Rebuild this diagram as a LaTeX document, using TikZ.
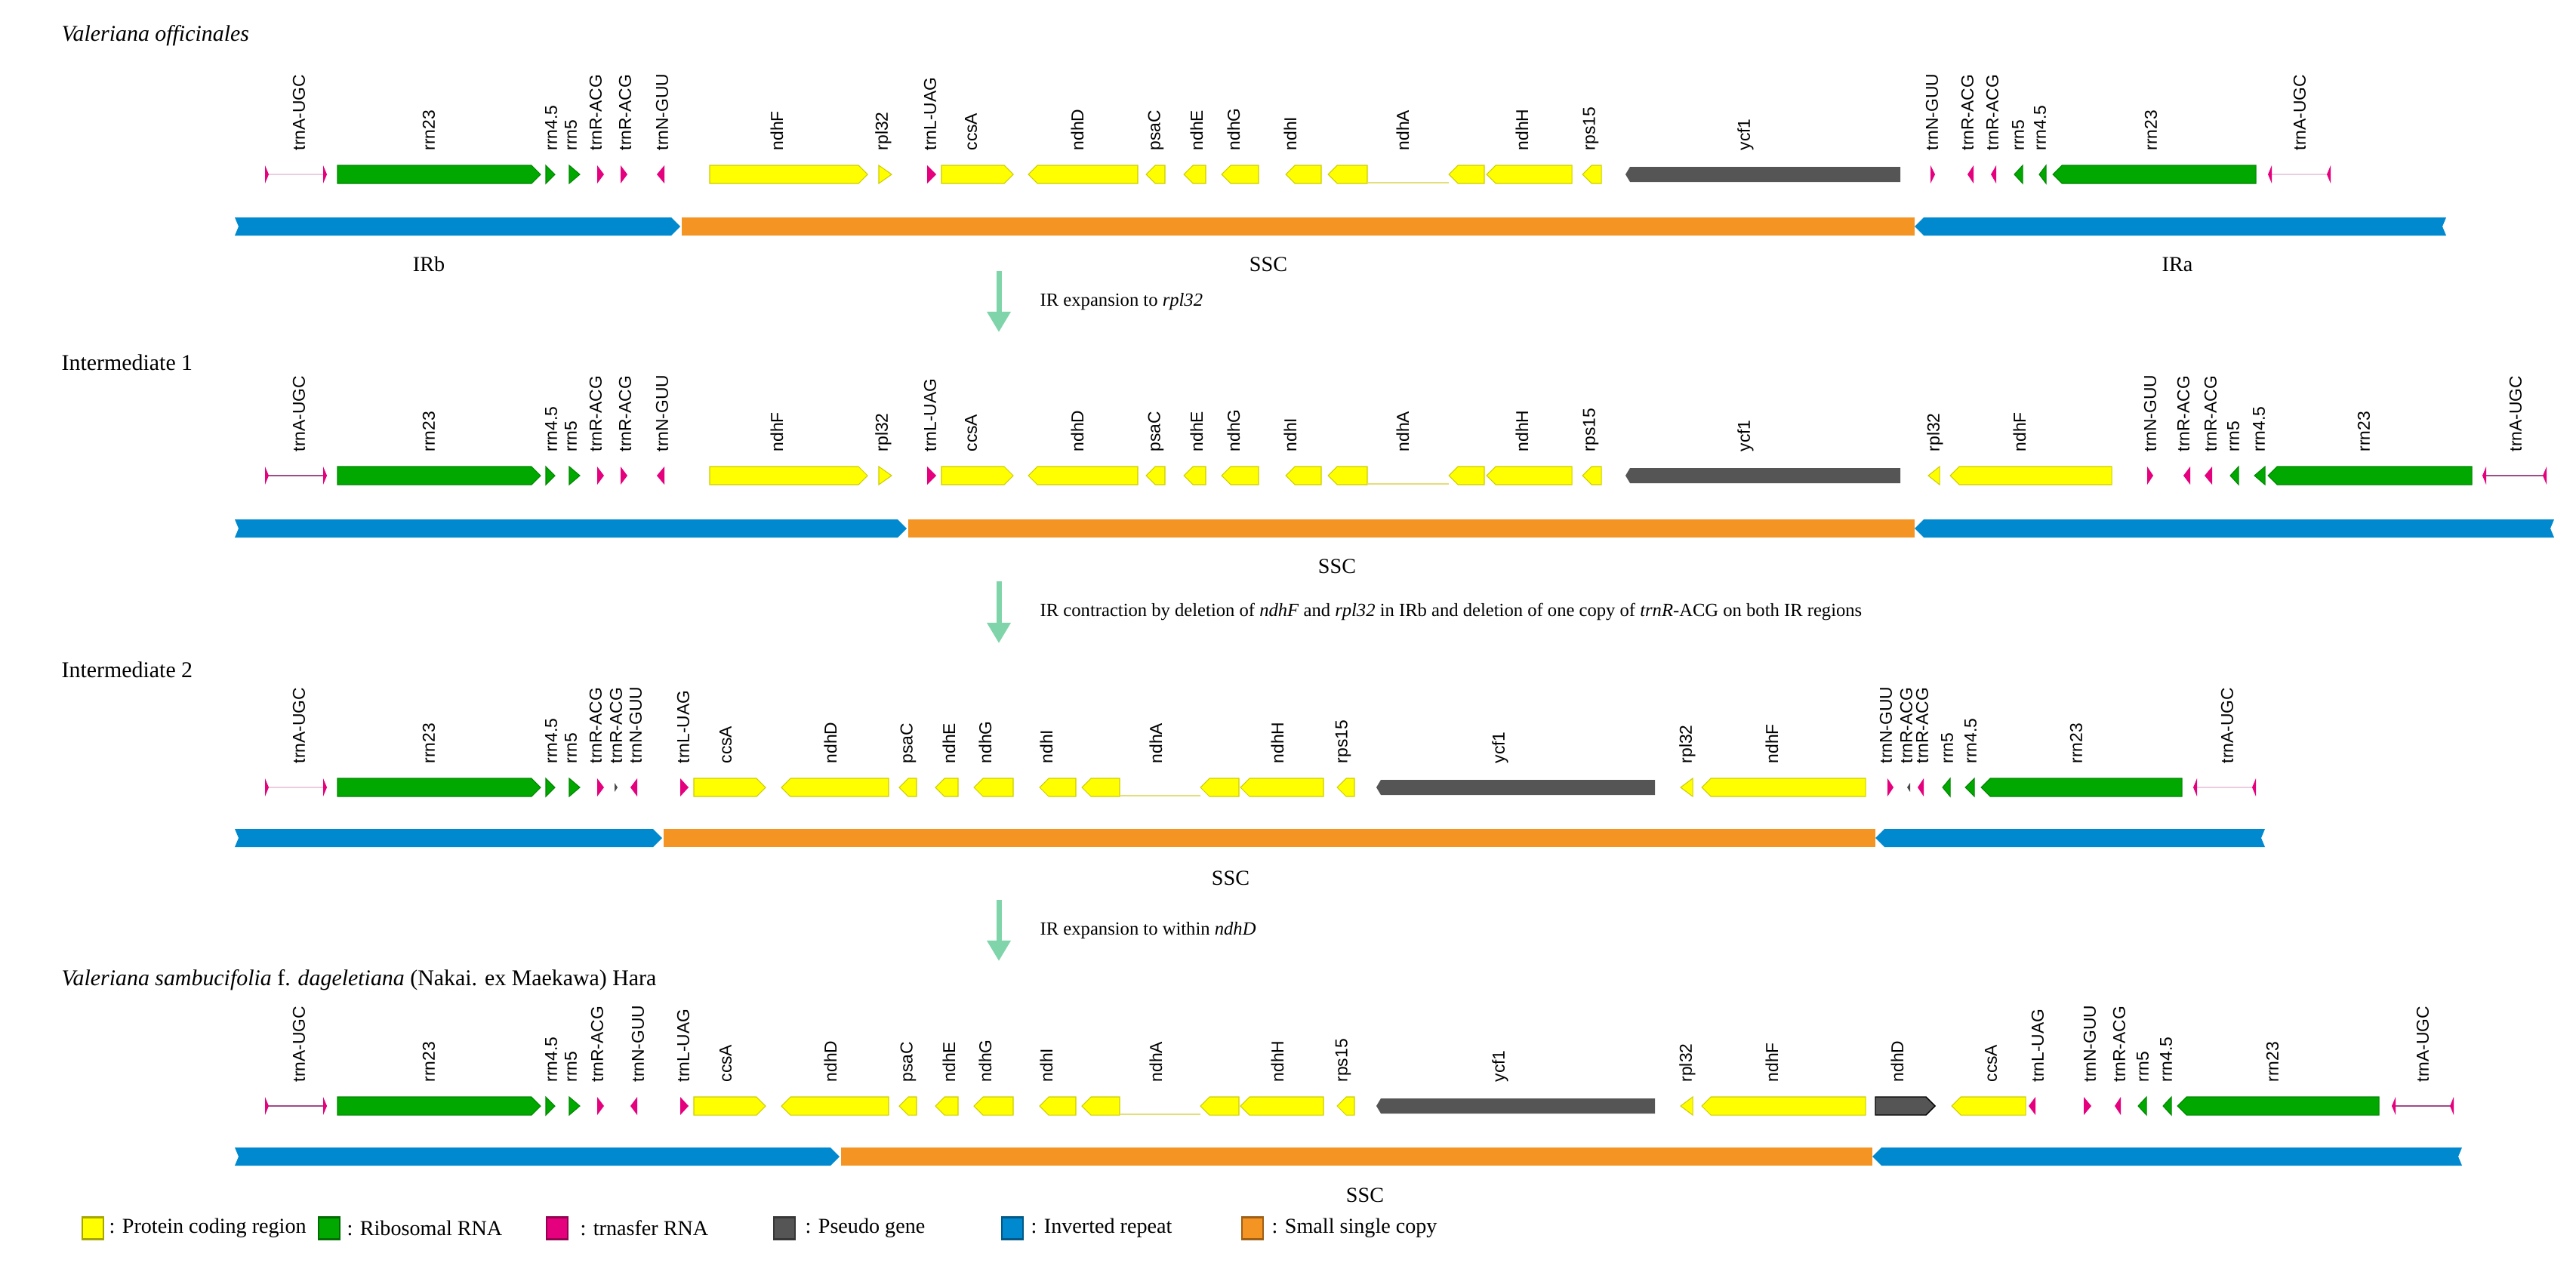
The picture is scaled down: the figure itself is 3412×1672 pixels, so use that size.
\documentclass[tikz,border=0pt]{standalone}
\usepackage{fontspec}
\setmainfont{Liberation Serif}
\newfontfamily\labfont{Liberation Sans}
\usetikzlibrary{arrows.meta}

\definecolor{cdsyel}{HTML}{FFFF00}
\definecolor{rrngrn}{HTML}{00A800}
\definecolor{trnmag}{HTML}{E5007D}
\definecolor{pseugry}{HTML}{555555}
\definecolor{irblu}{HTML}{0089CF}
\definecolor{sscorg}{HTML}{F39423}
\definecolor{arrmint}{HTML}{80D4AA}
\definecolor{alinelt}{HTML}{EBCDE0}
\definecolor{alinedk}{HTML}{A04A88}

\def\gy{0}\def\by{0}\def\rw{x}
% gene shapes, x in px of the plate, row height taken from \gy
\newcommand\geneR[3][cds]{\filldraw[#1] (#2,\gy-12) -- (#3-12,\gy-12) -- (#3,\gy) -- (#3-12,\gy+12) -- (#2,\gy+12) -- cycle;}
\newcommand\geneL[3][cds]{\filldraw[#1] (#3,\gy-12) -- (#2+12,\gy-12) -- (#2,\gy) -- (#2+12,\gy+12) -- (#3,\gy+12) -- cycle;}
\newcommand\tipR[3][trna]{\filldraw[#1] (#2,\gy-12) -- (#3,\gy) -- (#2,\gy+12) -- cycle;}
\newcommand\tipL[3][trna]{\filldraw[#1] (#3,\gy-12) -- (#2,\gy) -- (#3,\gy+12) -- cycle;}
\newcommand\pseudo[2]{\fill[pg] (#1,\gy) -- (#1+6,\gy-10) -- (#2,\gy-10) -- (#2,\gy+10) -- (#1+6,\gy+10) -- cycle;}
\newcommand\glab[2]{\node[glabel] (g\rw-#1) at (#1,\gy-31) {#2};}
% region bars, row height from \by
\newcommand\irR[2]{\fill[ir] (#1,\by-12) -- (#2-12,\by-12) -- (#2,\by) -- (#2-12,\by+12) -- (#1,\by+12) -- (#1+5,\by) -- cycle;}
\newcommand\irL[2]{\fill[ir] (#1,\by) -- (#1+12,\by-12) -- (#2,\by-12) -- (#2-5,\by) -- (#2,\by+12) -- (#1+12,\by+12) -- cycle;}
\newcommand\ssc[2]{\fill[sc] (#1+2,\by-12) rectangle (#2,\by+12);}

% SSC of V. officinalis and intermediate 1
\newcommand\coreA{%
  \geneR{1247}{1342} \glab{1286}{ccsA}
  \geneL{1362}{1507} \glab{1427}{ndhD}
  \geneL{1518}{1543} \glab{1531}{psaC}
  \geneL{1568}{1597} \glab{1585}{ndhE}
  \geneL{1618}{1667} \glab{1634}{ndhG}
  \geneL{1703}{1750} \glab{1709}{ndhI}
  \geneL{1759}{1811} \draw[intron] (1811,\gy+11) -- (1919,\gy+11); \geneL{1919}{1966} \glab{1858}{ndhA}
  \geneL{1969}{2082} \glab{2016}{ndhH}
  \geneL{2096}{2121} \glab{2107}{rps15}
  \pseudo{2153}{2517} \glab{2312}{ycf1}}
% SSC of intermediate 2 and V. sambucifolia
\newcommand\coreB{%
  \geneL{1035}{1177} \glab{1100}{ndhD}
  \geneL{1191}{1214} \glab{1203}{psaC}
  \geneL{1239}{1269} \glab{1257}{ndhE}
  \geneL{1290}{1342} \glab{1305}{ndhG}
  \geneL{1377}{1425} \glab{1386}{ndhI}
  \geneL{1433}{1483} \draw[intron] (1483,\gy+11) -- (1590,\gy+11); \geneL{1590}{1641} \glab{1531}{ndhA}
  \geneL{1643}{1753} \glab{1692}{ndhH}
  \geneL{1771}{1794} \glab{1779}{rps15}
  \pseudo{1823}{2192} \glab{1987}{ycf1}
  \tipL[cds]{2226}{2242} \glab{2235}{rpl32}
  \geneL{2254}{2471} \glab{2347}{ndhF}}

\begin{document}
\begin{tikzpicture}[%
  x=0.01cm, y=-0.01cm,
  cds/.style={fill=cdsyel, draw=cdsyel!80!black, line width=0.3pt},
  rrn/.style={fill=rrngrn, draw=rrngrn!80!black, line width=0.3pt},
  trna/.style={fill=trnmag, draw=none},
  pg/.style={fill=pseugry},
  ir/.style={fill=irblu},
  sc/.style={fill=sscorg},
  intron/.style={draw=black!20!yellow!60!white, line width=0.6pt},
  alight/.style={draw=alinelt, line width=0.8pt},
  adark/.style={draw=alinedk, line width=0.8pt},
  glabel/.style={rotate=90, anchor=west, inner sep=0pt, font=\labfont\fontsize{6.5}{7}\selectfont},
  title/.style={anchor=west, inner sep=0pt, font=\fontsize{8.5}{10}\selectfont},
  region/.style={inner sep=0pt, font=\fontsize{8}{9}\selectfont},
  trans/.style={draw=arrmint, line width=2pt, -{Triangle[length=7.7pt, width=8.5pt]}},
  tlabel/.style={anchor=west, inner sep=0pt, font=\fontsize{7}{8}\selectfont},
  lbox/.style={minimum width=0.28cm, minimum height=0.29cm, inner sep=0pt, line width=0.8pt},
  ltext/.style={anchor=west, inner sep=0pt, font=\fontsize{8}{10}\selectfont}]
\useasboundingbox (0,0) rectangle (3412,1672);

% Valeriana officinales
\node[title] (ti1) at (81,47) {\textit{Valeriana officinales}};
\def\rw{a}\def\gy{231}\def\by{300}
\draw[alight] (351,\gy) -- (433,\gy); \tipR{351}{356} \tipR{428}{433} \glab{396}{trnA-UGC}
\geneR[rrn]{447}{716} \glab{568}{rrn23}
\tipR[rrn]{723}{735} \glab{730}{rrn4.5}
\tipR[rrn]{754}{768} \glab{756}{rrn5}
\tipR{791}{800} \glab{789}{trnR-ACG}
\tipR{822}{831} \glab{828}{trnR-ACG}
\tipL{870}{880} \glab{877}{trnN-GUU}
\geneR{940}{1149} \glab{1029}{ndhF}
\tipR[cds]{1164}{1181} \glab{1170}{rpl32}
\tipR{1228}{1240} \glab{1232}{trnL-UAG}
\coreA
\tipR{2557}{2563} \glab{2559}{trnN-GUU}
\tipL{2606}{2614} \glab{2606}{trnR-ACG}
\tipL{2637}{2644} \glab{2639}{trnR-ACG}
\tipL[rrn]{2668}{2679} \glab{2673}{rrn5}
\tipL[rrn]{2701}{2710} \glab{2702}{rrn4.5}
\geneL[rrn]{2719}{2988} \glab{2849}{rrn23}
\draw[alight] (3004,\gy) -- (3087,\gy); \tipL{3004}{3009} \tipL{3082}{3087} \glab{3046}{trnA-UGC}
\irR{311}{901} \ssc{901}{2536} \irL{2536}{3240}
\node[region] (ra1) at (568,350) {IRb};
\node[region] (sc1) at (1680,350) {SSC};
\node[region] (rb1) at (2884,350) {IRa};

\coordinate (s1) at (1323,359);
\coordinate (e1) at (1323,440);
\draw[trans] (s1) -- (e1);
\node[tlabel] (tr1) at (1377,400) {IR expansion to \textit{rpl32}};

% Intermediate 1
\node[title] (ti2) at (81,480) {Intermediate 1};
\def\rw{b}\def\gy{630}\def\by{700}
\draw[adark] (351,\gy) -- (433,\gy); \tipR{351}{356} \tipR{428}{433} \glab{396}{trnA-UGC}
\geneR[rrn]{447}{716} \glab{568}{rrn23}
\tipR[rrn]{723}{735} \glab{730}{rrn4.5}
\tipR[rrn]{754}{768} \glab{756}{rrn5}
\tipR{791}{800} \glab{789}{trnR-ACG}
\tipR{822}{831} \glab{828}{trnR-ACG}
\tipL{870}{880} \glab{877}{trnN-GUU}
\geneR{940}{1149} \glab{1029}{ndhF}
\tipR[cds]{1164}{1181} \glab{1170}{rpl32}
\tipR{1228}{1240} \glab{1232}{trnL-UAG}
\coreA
\tipL[cds]{2554}{2569} \glab{2563}{rpl32}
\geneL{2583}{2797} \glab{2675}{ndhF}
\tipR{2844}{2852} \glab{2848}{trnN-GUU}
\tipL{2892}{2901} \glab{2892}{trnR-ACG}
\tipL{2920}{2930} \glab{2928}{trnR-ACG}
\tipL[rrn]{2954}{2965} \glab{2958}{rrn5}
\tipL[rrn]{2986}{3000} \glab{2992}{rrn4.5}
\geneL[rrn]{3004}{3274} \glab{3131}{rrn23}
\draw[adark] (3288,\gy) -- (3373,\gy); \tipL{3288}{3293} \tipL{3368}{3373} \glab{3332}{trnA-UGC}
\irR{311}{1201} \ssc{1201}{2536} \irL{2536}{3383}
\node[region] (sc2) at (1771,750) {SSC};

\coordinate (s2) at (1323,770);
\coordinate (e2) at (1323,852);
\draw[trans] (s2) -- (e2);
\node[tlabel] (tr2) at (1377,810) {IR contraction by deletion of \textit{ndhF} and \textit{rpl32} in IRb and deletion of one copy of \textit{trnR}-ACG on both IR regions};

% Intermediate 2
\node[title] (ti3) at (81,887) {Intermediate 2};
\def\rw{c}\def\gy{1043}\def\by{1110}
\draw[alight] (351,\gy) -- (433,\gy); \tipR{351}{356} \tipR{428}{433} \glab{396}{trnA-UGC}
\geneR[rrn]{447}{716} \glab{568}{rrn23}
\tipR[rrn]{723}{735} \glab{730}{rrn4.5}
\tipR[rrn]{754}{768} \glab{756}{rrn5}
\tipR{791}{800} \glab{789}{trnR-ACG}
\filldraw[fill=black!70, draw=none] (814,\gy-6) -- (818,\gy) -- (814,\gy+6) -- cycle; \glab{816}{trnR-ACG}
\tipL{835}{844} \glab{842}{trnN-GUU}
\tipR{901}{912} \glab{905}{trnL-UAG}
\geneR{919}{1014} \glab{961}{ccsA}
\coreB
\tipR{2500}{2508} \glab{2498}{trnN-GUU}
\filldraw[fill=black!70, draw=none] (2530,\gy-6) -- (2526,\gy) -- (2530,\gy+6) -- cycle; \glab{2525}{trnR-ACG}
\tipL{2540}{2548} \glab{2546}{trnR-ACG}
\tipL[rrn]{2573}{2583} \glab{2579}{rrn5}
\tipL[rrn]{2603}{2615} \glab{2610}{rrn4.5}
\geneL[rrn]{2624}{2890} \glab{2750}{rrn23}
\draw[alight] (2905,\gy) -- (2988,\gy); \tipL{2905}{2910} \tipL{2983}{2988} \glab{2950}{trnA-UGC}
\irR{311}{877} \ssc{877}{2484} \irL{2484}{3000}
\node[region] (sc3) at (1630,1163) {SSC};

\coordinate (s3) at (1323,1192);
\coordinate (e3) at (1323,1273);
\draw[trans] (s3) -- (e3);
\node[tlabel] (tr3) at (1377,1233) {IR expansion to within \textit{ndhD}};

% Valeriana sambucifolia f. dageletiana
\node[title] (ti4) at (81,1298) {\textit{Valeriana sambucifolia} f. \textit{dageletiana} (Nakai. ex Maekawa) Hara};
\def\rw{d}\def\gy{1465}\def\by{1532}
\draw[adark] (351,\gy) -- (433,\gy); \tipR{351}{356} \tipR{428}{433} \glab{396}{trnA-UGC}
\geneR[rrn]{447}{716} \glab{568}{rrn23}
\tipR[rrn]{723}{735} \glab{730}{rrn4.5}
\tipR[rrn]{754}{768} \glab{756}{rrn5}
\tipR{791}{800} \glab{791}{trnR-ACG}
\tipL{835}{844} \glab{845}{trnN-GUU}
\tipR{901}{912} \glab{905}{trnL-UAG}
\geneR{919}{1014} \glab{961}{ccsA}
\coreB
\geneR[pg]{2484}{2563} \glab{2513}{ndhD}
\geneL{2585}{2683} \glab{2637}{ccsA}
\tipL{2687}{2696} \glab{2699}{trnL-UAG}
\tipR{2760}{2770} \glab{2768}{trnN-GUU}
\tipL{2801}{2809} \glab{2807}{trnR-ACG}
\tipL[rrn]{2832}{2843} \glab{2838}{rrn5}
\tipL[rrn]{2865}{2876} \glab{2869}{rrn4.5}
\geneL[rrn]{2884}{3151} \glab{3010}{rrn23}
\draw[adark] (3168,\gy) -- (3250,\gy); \tipL{3168}{3173} \tipL{3245}{3250} \glab{3209}{trnA-UGC}
\irR{311}{1112} \ssc{1112}{2480} \irL{2480}{3261}
\node[region] (sc4) at (1808,1583) {SSC};

% legend
\node[lbox, fill=cdsyel, draw=cdsyel!65!black] (k1) at (123,1627) {};
\node[ltext] (k1t) at (144,1627) {: Protein coding region};
\node[lbox, fill=rrngrn, draw=rrngrn!65!black] (k2) at (436,1627) {};
\node[ltext] (k2t) at (459,1627) {: Ribosomal RNA};
\node[lbox, fill=trnmag, draw=trnmag!65!black] (k3) at (738,1627) {};
\node[ltext] (k3t) at (768,1627) {: trnasfer RNA};
\node[lbox, fill=pseugry, draw=pseugry!65!black] (k4) at (1039,1627) {};
\node[ltext] (k4t) at (1066,1627) {: Pseudo gene};
\node[lbox, fill=irblu, draw=irblu!65!black] (k5) at (1341,1627) {};
\node[ltext] (k5t) at (1365,1627) {: Inverted repeat};
\node[lbox, fill=sscorg, draw=sscorg!65!black] (k6) at (1659,1627) {};
\node[ltext] (k6t) at (1684,1627) {: Small single copy};
\end{tikzpicture}
\end{document}
